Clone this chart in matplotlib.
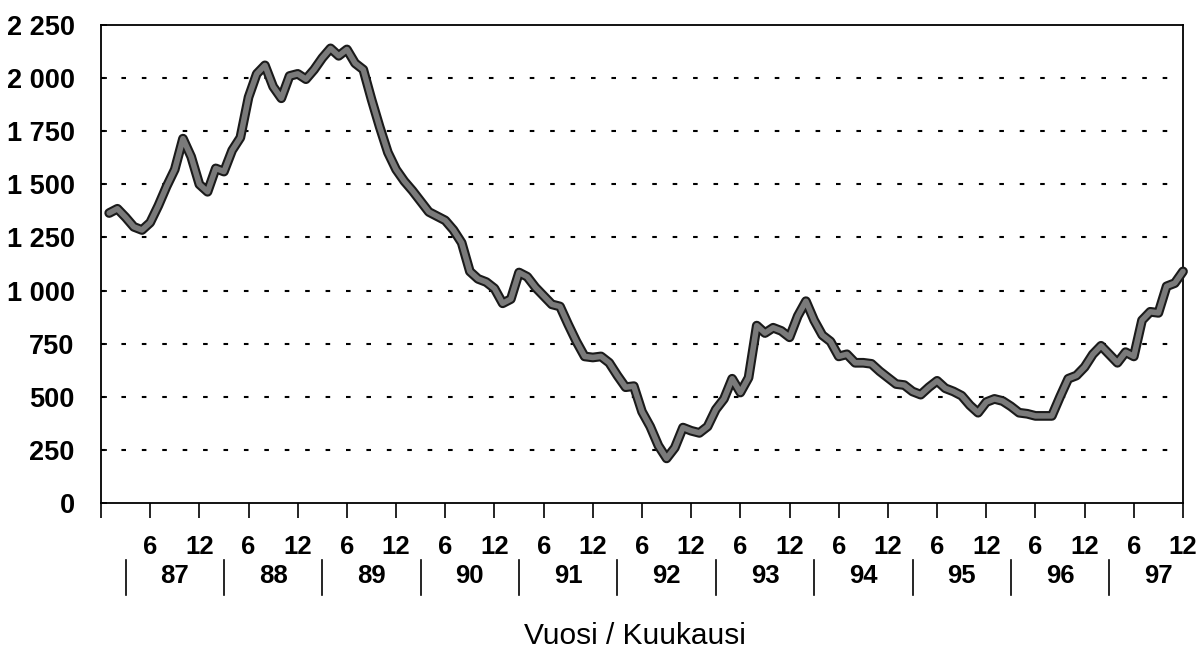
import matplotlib
matplotlib.use("Agg")
import matplotlib.pyplot as plt
import numpy as np

# ---- data (monthly, Jan 1987 .. Dec 1997) ----
months = list(range(1, 133))
values = [
    1365, 1385, 1345, 1300, 1285, 1320, 1400, 1490, 1570, 1715, 1630, 1500,   # 87
    1465, 1575, 1560, 1660, 1720, 1910, 2020, 2060, 1960, 1905, 2010, 2020,   # 88
    1995, 2040, 2095, 2140, 2105, 2135, 2070, 2040, 1900, 1770, 1650, 1570,   # 89
    1515, 1470, 1420, 1370, 1350, 1330, 1285, 1225, 1090, 1055, 1040, 1010,   # 90
    940, 960, 1085, 1065, 1015, 975, 935, 925, 840, 760, 690, 685,            # 91
    690, 660, 600, 545, 550, 430, 360, 270, 210, 260, 355, 340,               # 92
    330, 360, 440, 490, 585, 520, 590, 835, 800, 825, 810, 780,               # 93
    880, 950, 860, 790, 760, 690, 700, 660, 660, 655, 620, 590,               # 94
    560, 555, 525, 510, 545, 575, 540, 525, 505, 460, 425, 475,               # 95
    490, 480, 455, 425, 420, 410, 410, 410, 500, 585, 600, 640,               # 96
    700, 740, 700, 660, 710, 690, 860, 900, 895, 1020, 1035, 1090,            # 97
]

y_ticks = [0, 250, 500, 750, 1000, 1250, 1500, 1750, 2000, 2250]
y_tick_labels = ["0", "250", "500", "750", "1 000", "1 250", "1 500",
                 "1 750", "2 000", "2 250"]
x_ticks = list(range(0, 133, 6))
x_tick_labels = [""] + ["6" if (t % 12) == 6 else "12" for t in x_ticks[1:]]
years = ["87", "88", "89", "90", "91", "92", "93", "94", "95", "96", "97"]
year_label_pos = [9 + 12 * i for i in range(len(years))]
year_sep_pos = [3 + 12 * i for i in range(len(years))]
x_title = "Vuosi / Kuukausi"

# ---- fonts ----
plt.rcParams['font.family'] = ['Liberation Sans Narrow', 'Liberation Sans', 'DejaVu Sans']

W, H = 1201, 654
fig = plt.figure(figsize=(W / 100, H / 100), dpi=100)
ax = fig.add_axes([101 / W, 1 - 503 / H, (1183 - 101) / W, (503 - 25) / H])

# gridlines (dotted)
for yv in y_ticks[1:-1]:
    ax.axhline(yv, color='black', linewidth=1.5, linestyle=(0, (2.2, 7.6)), zorder=1)

# thick line: black outline with grey body
ax.plot(months, values, color='#1a1a1a', linewidth=7.0, solid_joinstyle='round',
        solid_capstyle='round', zorder=3, clip_on=False)
ax.plot(months, values, color='#7a7a7a', linewidth=4.0, solid_joinstyle='round',
        solid_capstyle='round', zorder=4, clip_on=False)

ax.set_xlim(0, 132)
ax.set_ylim(0, 2250)

ax.set_yticks(y_ticks)
ax.set_yticklabels(y_tick_labels, fontsize=19.5, fontweight='bold')
ax.set_xticks(x_ticks)
ax.set_xticklabels(x_tick_labels, fontsize=18.5, fontweight='bold')

ax.tick_params(axis='y', direction='in', length=4, width=1.2, pad=19)
ax.tick_params(axis='x', direction='out', length=10.8, width=1.2, pad=12)

for sp in ax.spines.values():
    sp.set_linewidth(1.3)
    sp.set_color('black')

trans = ax.get_xaxis_transform()
for xp, lab in zip(year_label_pos, years):
    ax.text(xp, -0.153, lab, transform=trans, ha='center', va='center',
            fontsize=18.5, fontweight='bold')
for xp in year_sep_pos:
    ax.plot([xp, xp], [-0.120, -0.192], transform=trans, color='black',
            linewidth=1.2, clip_on=False)

fig.text(635 / W, 1 - 636 / H, x_title, ha='center', va='center', fontsize=21.5)

fig.savefig("out.png", dpi=100)
